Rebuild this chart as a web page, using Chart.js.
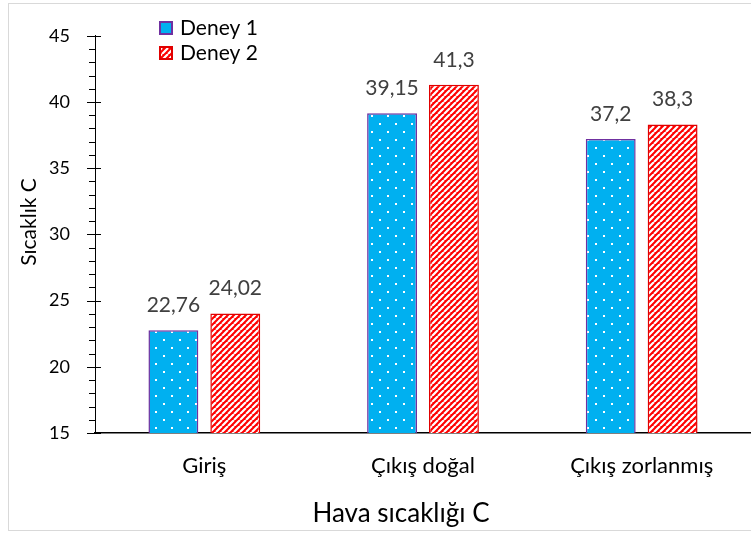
<!DOCTYPE html>
<html>
<head>
<meta charset="utf-8">
<script src="https://cdn.jsdelivr.net/npm/chart.js@4.4.1/dist/chart.umd.min.js"></script>
<style>
  html, body { margin: 0; padding: 0; background: #ffffff; }
  #wrap { width: 751px; height: 533px; position: relative; }
</style>
</head>
<body>
<div id="wrap"><canvas id="c" width="751" height="533"></canvas></div>
<script>
// Air temperature measurements for two experiments
const categories = ['Giriş', 'Çıkış doğal', 'Çıkış zorlanmış'];
const seriesNames = ['Deney 1', 'Deney 2'];
const deney1 = [22.76, 39.15, 37.2];
const deney2 = [24.02, 41.3, 38.3];
const yTicks = [15, 20, 25, 30, 35, 40, 45];

const FONT = 'Lato, "Open Sans", sans-serif';

// Blue fill with a staggered grid of small white dots
function dotPattern() {
  const c = document.createElement('canvas');
  c.width = 16; c.height = 16;
  const g = c.getContext('2d');
  g.fillStyle = '#00B0F0';
  g.fillRect(0, 0, 16, 16);
  g.fillStyle = '#ffffff';
  g.fillRect(3, 3, 2, 2);
  g.fillRect(11, 11, 2, 2);
  return g.createPattern(c, 'repeat');
}

// Red fill with wide white upward diagonal stripes
function stripePattern() {
  const s = 6;
  const c = document.createElement('canvas');
  c.width = s; c.height = s;
  const g = c.getContext('2d');
  g.fillStyle = '#FF0000';
  g.fillRect(0, 0, s, s);
  g.strokeStyle = '#ffffff';
  g.lineWidth = 2.2;
  g.beginPath();
  for (let k = -1; k <= 1; k++) {
    g.moveTo(k * s, s);
    g.lineTo(k * s + s, 0);
  }
  g.stroke();
  return g.createPattern(c, 'repeat');
}

const fmt = v => String(v).replace('.', ',');

const decorations = {
  id: 'decorations',
  beforeDraw(chart) {
    const ctx = chart.ctx;
    ctx.save();
    ctx.fillStyle = '#ffffff';
    ctx.fillRect(0, 0, chart.width, chart.height);
    ctx.strokeStyle = '#d9d9d9';
    ctx.lineWidth = 1;
    ctx.strokeRect(8.5, 3.5, chart.width + 10, chart.height - 6);
    ctx.restore();
  },
  afterDraw(chart) {
    const ctx = chart.ctx;
    const y = chart.scales.y;
    const area = chart.chartArea;
    ctx.save();

    // minor and major tick marks on the value axis
    ctx.strokeStyle = '#000000';
    ctx.lineWidth = 1;
    ctx.beginPath();
    for (let v = y.min; v <= y.max; v++) {
      const py = Math.round(y.getPixelForValue(v)) + 0.5;
      const major = yTicks.includes(v);
      ctx.moveTo(area.left - (major ? 8 : 6), py);
      ctx.lineTo(area.left + (major ? 6 : 0), py);
    }
    ctx.stroke();

    // value labels above bars
    ctx.font = '21px ' + FONT;
    ctx.fillStyle = '#404040';
    ctx.textAlign = 'center';
    ctx.textBaseline = 'middle';
    chart.data.datasets.forEach((ds, di) => {
      chart.getDatasetMeta(di).data.forEach((bar, i) => {
        ctx.fillText(fmt(ds.data[i]), bar.x, bar.y - 25);
      });
    });

    // axis titles
    ctx.fillStyle = '#000000';
    ctx.font = '26px ' + FONT;
    ctx.fillText('Hava sıcaklığı C', 401, 514);
    ctx.save();
    ctx.font = '21px ' + FONT;
    ctx.translate(29, 222);
    ctx.rotate(-Math.PI / 2);
    ctx.fillText('Sıcaklık C', 0, 0);
    ctx.restore();

    // legend
    ctx.font = '21px ' + FONT;
    ctx.textAlign = 'left';
    chart.data.datasets.forEach((ds, di) => {
      const top = 21 + di * 25;
      ctx.fillStyle = ds.backgroundColor;
      ctx.fillRect(159, top, 14, 14);
      ctx.strokeStyle = ds.borderColor;
      ctx.lineWidth = 2;
      ctx.strokeRect(160, top + 1, 12, 12);
      ctx.fillStyle = '#000000';
      ctx.fillText(ds.label, 180, top + 7.5);
    });
    ctx.restore();
  }
};

function draw() {
  new Chart(document.getElementById('c'), {
    type: 'bar',
    data: {
      labels: categories,
      datasets: [
        {
          label: seriesNames[0],
          data: deney1,
          backgroundColor: dotPattern(),
          borderColor: '#7030A0',
          borderWidth: 1.5,
          categoryPercentage: 0.566,
          barPercentage: 0.806
        },
        {
          label: seriesNames[1],
          data: deney2,
          backgroundColor: stripePattern(),
          borderColor: '#E00000',
          borderWidth: 1.5,
          categoryPercentage: 0.566,
          barPercentage: 0.806
        }
      ]
    },
    options: {
      responsive: false,
      animation: false,
      devicePixelRatio: 1,
      layout: { padding: { left: 0, right: 0, top: 33, bottom: 0 } },
      plugins: { legend: { display: false }, tooltip: { enabled: false } },
      scales: {
        x: {
          grid: { display: false, drawTicks: false },
          border: { display: true, color: '#000000', width: 1.5 },
          ticks: { color: '#000000', font: { family: FONT, size: 22 }, padding: 20, maxRotation: 0 },
          afterFit(s) { s.height = 100; }
        },
        y: {
          min: 15,
          max: 45,
          grid: { display: false, drawTicks: false },
          border: { display: true, color: '#000000', width: 1 },
          ticks: { stepSize: 5, color: '#000000', font: { family: FONT, size: 18 }, padding: 25 },
          afterFit(s) { s.width = 95; }
        }
      }
    },
    plugins: [decorations]
  });
}

if (document.fonts && document.fonts.load) {
  document.fonts.load('18px Lato').then(draw, draw);
} else {
  draw();
}
</script>
</body>
</html>
